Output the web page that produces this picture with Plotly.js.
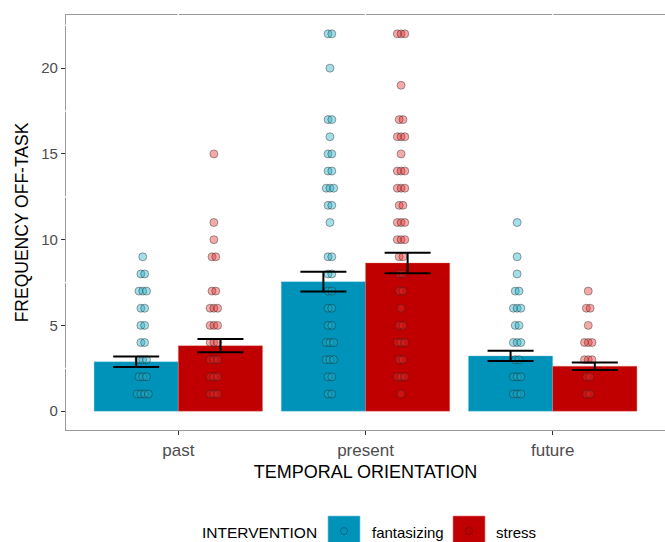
<!DOCTYPE html>
<html><head><meta charset="utf-8">
<script src="https://cdn.plot.ly/plotly-3.0.1.min.js"></script>
<style>html,body{margin:0;padding:0;background:#fff}#chart{width:665px;height:542px}</style>
</head><body><div id="chart"></div>
<script>
// ---- data ----
const categories = ['past', 'present', 'future'];
const groupNames = ['fantasizing', 'stress'];
const legendTitle = 'INTERVENTION';
const meanFantasizing = [2.88, 7.55, 3.22];
const seFantasizing = [0.30, 0.58, 0.30];
const meanStress = [3.82, 8.64, 2.62];
const seStress = [0.38, 0.60, 0.22];
const fantPast = [9,8,8,7,7,7,6,6,5,5,4,4,3,3,3,2,2,2,1,1,1,1];
const stressPast = [15,11,10,9,9,7,7,6,6,6,5,5,5,4,4,4,3,3,3,2,2,2,1,1,1];
const fantPresent = [22,22,20,17,17,16,15,15,14,14,13,13,13,12,12,11,9,9,8,8,7,7,6,6,5,5,4,4,4,3,3,3,2,2,1,1];
const stressPresent = [22,22,22,19,17,17,16,16,16,15,14,14,14,13,13,13,12,12,11,11,11,10,10,10,9,9,8,8,7,7,6,5,5,4,4,4,3,3,2,2,2,1];
const fantFuture = [11,9,8,7,7,6,6,6,5,5,4,4,4,3,3,2,2,2,1,1,1];
const stressFuture = [7,6,6,5,4,4,4,3,3,3,2,2,1,1];
const yTicks = [0, 5, 10, 15, 20];

// ---- styles ----
const FONT = 'Liberation Sans, Arial, sans-serif';
const barBlue = '#0093B9', barRed = '#C00000';
const ptBlue = 'rgba(30,172,197,0.4)', ptRed = 'rgba(230,42,42,0.4)';
const ptLine = 'rgba(30,30,30,0.4)';
const catIdx = categories.map((c, i) => i);

// spread repeated values slightly around a centre (display only)
function spread(values, centre) {
  const total = {}, seen = {};
  values.forEach(v => total[v] = (total[v] || 0) + 1);
  return values.map(v => {
    const i = seen[v] = (seen[v] === undefined ? 0 : seen[v] + 1);
    return centre + (i - (total[v] - 1) / 2) * 0.02;
  });
}
function pointTrace(sets, side, color) {
  let xs = [], ys = [];
  sets.forEach((vals, ci) => {
    xs = xs.concat(spread(vals, ci + side * 0.19));
    ys = ys.concat(vals);
  });
  return {type: 'scatter', mode: 'markers', x: xs, y: ys, hoverinfo: 'skip', showlegend: false,
    marker: {size: 8, color: color, line: {color: ptLine, width: 1}}};
}

const traces = [
  {type: 'bar', name: groupNames[0], x: catIdx, y: meanFantasizing, offsetgroup: 'a', showlegend: false,
   marker: {color: barBlue, line: {color: 'rgba(120,200,225,0.6)', width: 0.6}}},
  {type: 'bar', name: groupNames[1], x: catIdx, y: meanStress, offsetgroup: 'b', showlegend: false,
   marker: {color: barRed, line: {color: 'rgba(235,120,120,0.6)', width: 0.6}}},
  pointTrace([fantPast, fantPresent, fantFuture], -1, ptBlue),
  pointTrace([stressPast, stressPresent, stressFuture], 1, ptRed),
  {type: 'scatter', mode: 'markers', x: catIdx.map(i => i - 0.225), y: meanFantasizing, hoverinfo: 'skip', showlegend: false,
   marker: {opacity: 0}, error_y: {type: 'data', array: seFantasizing, color: '#000', thickness: 2, width: 23}},
  {type: 'scatter', mode: 'markers', x: catIdx.map(i => i + 0.225), y: meanStress, hoverinfo: 'skip', showlegend: false,
   marker: {opacity: 0}, error_y: {type: 'data', array: seStress, color: '#000', thickness: 2, width: 23}}
];

// pixel helpers for the hand-drawn legend
const L = 66, R = 665, T = 15, B = 430;
const px = x => (x - L) / (R - L);
const py = y => (B - y) / (B - T);

const shapes = [];
[2.5, 7.5, 12.5, 17.5, 22.5].forEach(v => shapes.push({type: 'line', layer: 'above', xref: 'paper', yref: 'y',
  x0: -0.004, x1: 0.004, y0: v, y1: v, line: {color: '#fff', width: 1.3}}));
catIdx.forEach(i => shapes.push({type: 'line', layer: 'above', xref: 'x', yref: 'paper',
  x0: i, x1: i, y0: 0.99, y1: 1.01, line: {color: '#fff', width: 1.3}}));
// legend keys
[[328, barBlue], [453, barRed]].forEach(([x, c]) => {
  shapes.push({type: 'rect', xref: 'paper', yref: 'paper', x0: px(x), x1: px(x + 32), y0: py(516), y1: py(550),
    fillcolor: c, line: {color: c === barBlue ? 'rgba(120,200,225,0.8)' : 'rgba(235,120,120,0.8)', width: 0.8}});
  shapes.push({type: 'circle', xref: 'paper', yref: 'paper', x0: px(x + 12.5), x1: px(x + 19.5), y0: py(527.5), y1: py(534.5),
    fillcolor: 'rgba(0,0,0,0)', line: {color: 'rgba(0,0,0,0.3)', width: 1}});
});

const annotations = [
  {text: legendTitle, xref: 'paper', yref: 'paper', x: px(200), y: py(532), xanchor: 'left', yanchor: 'middle', showarrow: false,
   font: {family: FONT, size: 15.5, color: '#000'}},
  {text: groupNames[0], xref: 'paper', yref: 'paper', x: px(370), y: py(532), xanchor: 'left', yanchor: 'middle', showarrow: false,
   font: {family: FONT, size: 15, color: '#000'}},
  {text: groupNames[1], xref: 'paper', yref: 'paper', x: px(494), y: py(532), xanchor: 'left', yanchor: 'middle', showarrow: false,
   font: {family: FONT, size: 15, color: '#000'}}
];

const layout = {
  width: 665, height: 542,
  margin: {l: L, r: 665 - R, t: T, b: 542 - B},
  paper_bgcolor: '#fff', plot_bgcolor: '#fff',
  font: {family: FONT},
  barmode: 'group', bargap: 0.1, bargroupgap: 0,
  showlegend: false,
  xaxis: {type: 'linear', range: [-0.6, 2.6], tickvals: catIdx, ticktext: categories,
    showgrid: false, zeroline: false, showline: true, mirror: true, linecolor: '#9a9a9a', linewidth: 1.1,
    ticks: 'outside', ticklen: 4, tickcolor: '#333', tickwidth: 1,
    tickfont: {family: FONT, size: 17, color: '#4d4d4d'},
    title: {text: 'TEMPORAL ORIENTATION', font: {family: FONT, size: 18, color: '#000'}, standoff: 6}},
  yaxis: {range: [-1.1, 23.1], tickvals: yTicks, ticktext: yTicks.map(String),
    showgrid: false, zeroline: false, showline: true, mirror: true, linecolor: '#9a9a9a', linewidth: 1.1,
    ticks: 'outside', ticklen: 4, tickcolor: '#333', tickwidth: 1,
    tickfont: {family: FONT, size: 15, color: '#4d4d4d'},
    title: {text: 'FREQUENCY OFF-TASK', font: {family: FONT, size: 17.5, color: '#000'}, standoff: 8}},
  shapes: shapes,
  annotations: annotations
};

Plotly.newPlot('chart', traces, layout, {displayModeBar: false, staticPlot: true});
</script>
</body></html>
